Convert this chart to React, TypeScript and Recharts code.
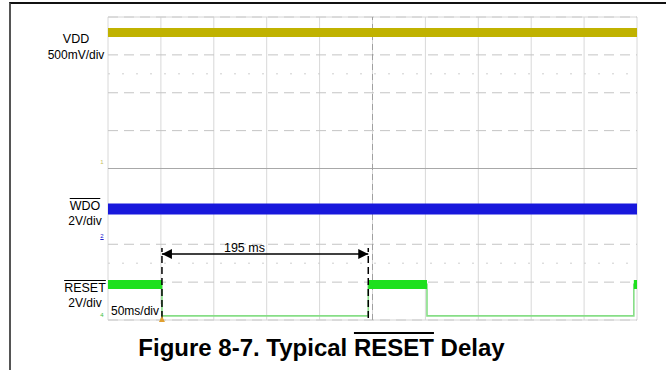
import { LineChart, Line, XAxis, YAxis, CartesianGrid, ReferenceLine, ReferenceDot } from 'recharts';

// time axis in ms (10 div x 50 ms), vertical axis in screen divisions (8 div)
const timeTicks = [0, 50, 100, 150, 200, 250, 300, 350, 400, 450, 500];
const divTicks = [0, 1, 2, 3, 4, 5, 6, 7, 8];

const vddTime = [0, 500];
const vddLevel = [7.59, 7.59];
const wdoTime = [0, 500];
const wdoLevel = [2.93, 2.93];

const resetTime = [0, 51, 51, 246, 246, 301.5, 301.5, 497, 497, 500];
const resetLevel = [0.94, 0.94, 0.11, 0.11, 0.94, 0.94, 0.11, 0.11, 0.94, 0.94];
// noisy "high" band drawn thicker
const resetHighTime = [0, 51, 52, 245, 246, 301.5, 302, 496, 497, 500];
const resetHighLevel = [0.94, 0.94, null, null, 0.94, 0.94, null, null, 0.94, 0.94];

const delayStart = 51;
const delayEnd = 246;
const delayLabel = '195 ms';

const toRows = (t: number[], v: (number | null)[]) => t.map((x, i) => ({ t: x, v: v[i] }));

const vddData = toRows(vddTime, vddLevel);
const wdoData = toRows(wdoTime, wdoLevel);
const resetData = toRows(resetTime, resetLevel);
const resetHighData = toRows(resetHighTime, resetHighLevel);

const font = 'Liberation Sans, Arial, sans-serif';

const label = (top: number, left: number, width: number, text: any, extra: any = {}) => (
  <div
    style={{
      position: 'absolute',
      top,
      left,
      width,
      textAlign: 'center',
      fontSize: 12,
      lineHeight: '14px',
      fontFamily: font,
      color: '#000',
      whiteSpace: 'nowrap',
      ...extra,
    }}
  >
    {text}
  </div>
);

const ArrowLeft = (p: any) => (
  <polygon points={`${p.cx},${p.cy} ${p.cx + 10},${p.cy - 5} ${p.cx + 10},${p.cy + 5}`} fill="#000" />
);
const ArrowRight = (p: any) => (
  <polygon points={`${p.cx},${p.cy} ${p.cx - 10},${p.cy - 5} ${p.cx - 10},${p.cy + 5}`} fill="#000" />
);
const Trigger = (p: any) => (
  <polygon points={`${p.cx},${p.cy - 4} ${p.cx - 3},${p.cy + 2} ${p.cx + 3},${p.cy + 2}`} fill="#e0a030" />
);
const DelayText = (p: any) => (
  <text x={p.cx} y={p.cy} textAnchor="middle" dominantBaseline="central" fontSize={12.5} fontFamily={font} fill="#000">
    {delayLabel}
  </text>
);

export default function App() {
  return (
    <div style={{ position: 'absolute', left: 0, top: 0, width: 666, height: 370, background: '#fff' }}>
      {/* page frame */}
      <div style={{ position: 'absolute', left: 9, top: 2, width: 657, height: 368, borderLeft: '2px solid #555', borderTop: '2px solid #111' }} />

      <LineChart
        width={666}
        height={370}
        margin={{ top: 17, left: 108, right: 29, bottom: 50 }}
        style={{ position: 'absolute', left: 0, top: 0 }}
      >
        <XAxis dataKey="t" type="number" domain={[0, 500]} ticks={timeTicks} hide allowDataOverflow />
        <YAxis type="number" domain={[0, 8]} ticks={divTicks} hide allowDataOverflow />
        <CartesianGrid horizontal={false} stroke="#d8d8d8" />
        <CartesianGrid vertical={false} stroke="#c4c4c4" strokeDasharray="10 6" />
        <ReferenceLine y={0} stroke="#d4d4d4" />
        <ReferenceLine y={8} stroke="#d4d4d4" />
        <ReferenceLine y={6.5} stroke="#cfcfcf" strokeDasharray="2 12" />
        <ReferenceLine y={1.5} stroke="#cfcfcf" strokeDasharray="2 12" />
        <ReferenceLine y={4} stroke="#a8a8a8" />
        <ReferenceLine x={250} stroke="#a0a0a0" strokeDasharray="6 4" />

        <Line data={vddData} dataKey="v" stroke="#c0b200" strokeWidth={9} dot={false} isAnimationActive={false} />
        <Line data={wdoData} dataKey="v" stroke="#1818dc" strokeWidth={11} dot={false} isAnimationActive={false} />
        <Line data={resetData} dataKey="v" stroke="#86de86" strokeWidth={1.6} dot={false} isAnimationActive={false} />
        <Line data={resetHighData} dataKey="v" stroke="#1ee01e" strokeWidth={9} dot={false} isAnimationActive={false} />

        <ReferenceLine segment={[{ x: delayStart, y: 0.05 }, { x: delayStart, y: 1.9 }]} stroke="#000" strokeWidth={1.5} strokeDasharray="7 4" />
        <ReferenceLine segment={[{ x: delayEnd, y: 0.05 }, { x: delayEnd, y: 1.9 }]} stroke="#000" strokeWidth={1.5} strokeDasharray="7 4" />
        <ReferenceLine segment={[{ x: delayStart, y: 1.74 }, { x: delayEnd, y: 1.74 }]} stroke="#000" strokeWidth={1.5} />
        <ReferenceDot x={delayStart} y={1.74} r={0} shape={ArrowLeft} />
        <ReferenceDot x={delayEnd} y={1.74} r={0} shape={ArrowRight} />
        <ReferenceDot x={129} y={1.9} r={0} shape={DelayText} />
        <ReferenceDot x={delayStart} y={0} r={0} shape={Trigger} />
      </LineChart>

      {/* channel labels */}
      {label(32, 50, 52, 'VDD', { fontSize: 12.5 })}
      {label(48, 44, 64, '500mV/div')}
      {label(199, 62, 46, <span style={{ textDecoration: 'overline' }}>WDO</span>, { fontSize: 12.5 })}
      {label(214, 62, 46, '2V/div')}
      {label(281, 60, 50, <span style={{ textDecoration: 'overline' }}>RESET</span>, { fontSize: 12.5 })}
      {label(296, 62, 46, '2V/div')}
      {label(304, 109, 52, '50ms/div', { background: '#fff' })}

      {/* channel markers */}
      {label(158, 98, 8, '1', { fontSize: 6, lineHeight: '8px', color: '#c8c060' })}
      {label(232, 98, 8, '2', { fontSize: 6, lineHeight: '8px', color: '#2020d0', textDecoration: 'underline' })}
      {label(311, 98, 8, '4', { fontSize: 6, lineHeight: '8px', color: '#40c040' })}

      <div
        style={{
          position: 'absolute',
          top: 333,
          left: 0,
          width: 643,
          textAlign: 'center',
          fontFamily: font,
          fontWeight: 'bold',
          fontSize: 24,
          lineHeight: '30px',
          color: '#000',
          whiteSpace: 'nowrap',
        }}
      >
        Figure 8-7. Typical <span style={{ textDecoration: 'overline' }}>RESET</span> Delay
      </div>
    </div>
  );
}
